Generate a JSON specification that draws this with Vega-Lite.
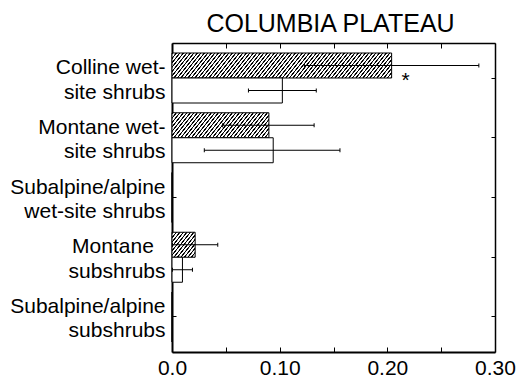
{
"$schema": "https://vega.github.io/schema/vega-lite/v6.json",
"width": 323, "height": 309,
"autosize": {"type": "none"},
"padding": {"left": 172, "top": 43, "right": 23, "bottom": 29},
"title": {"text": "COLUMBIA PLATEAU", "font": "Liberation Sans", "fontSize": 25, "fontWeight": "normal", "color": "black", "baseline": "alphabetic", "offset": -14, "anchor": "middle", "dx": -3},
"config": {"view": {"stroke": null}, "axis": {"domainColor": "black", "tickColor": "black", "labelColor": "black", "labelFont": "Liberation Sans", "labelFontSize": 21, "grid": false, "tickWidth": 1}},
"data": {"values": [
{"cat":"Colline wet-|site shrubs","series":"hatched","mean":0.204,"lo":0.123,"hi":0.285},
{"cat":"Colline wet-|site shrubs","series":"open","mean":0.1025,"lo":0.071,"hi":0.134},
{"cat":"Montane wet-|site shrubs","series":"hatched","mean":0.090,"lo":0.047,"hi":0.132},
{"cat":"Montane wet-|site shrubs","series":"open","mean":0.094,"lo":0.030,"hi":0.156},
{"cat":"Subalpine/alpine|wet-site shrubs","series":"hatched","mean":0,"lo":null,"hi":null},
{"cat":"Subalpine/alpine|wet-site shrubs","series":"open","mean":0,"lo":null,"hi":null},
{"cat":"Montane\u00a0\u00a0\u200b|subshrubs","series":"hatched","mean":0.0215,"lo":0.0005,"hi":0.0425},
{"cat":"Montane\u00a0\u00a0\u200b|subshrubs","series":"open","mean":0.0097,"lo":0.0004,"hi":0.019},
{"cat":"Subalpine/alpine|subshrubs","series":"hatched","mean":0,"lo":null,"hi":null},
{"cat":"Subalpine/alpine|subshrubs","series":"open","mean":0,"lo":null,"hi":null}
]},
"resolve": {"axis": {"x": "independent", "y": "independent"}},
"layer": [
{
"mark": {"type": "bar", "stroke": "black", "strokeWidth": 1},
"encoding": {
"x": {"field": "mean", "type": "quantitative", "scale": {"domain": [0, 0.3], "nice": false, "zero": true},
 "axis": {"orient": "bottom", "title": null, "values": [0,0.05,0.1,0.15,0.2,0.25,0.3], "labelExpr": "datum.value == 0 ? '0.0' : (round(datum.value*100) % 10 == 0 ? format(datum.value, '.2f') : '')", "tickSize": -5, "domainWidth": 2, "labelPadding": 10, "labelFlush": false, "labelOverlap": false}},
"y": {"field": "cat", "type": "nominal", "sort": null,
 "scale": {"domain": ["Colline wet-|site shrubs","Montane wet-|site shrubs","Subalpine/alpine|wet-site shrubs","Montane\u00a0\u00a0\u200b|subshrubs","Subalpine/alpine|subshrubs"], "paddingInner": 0.1632, "paddingOuter": 0.1674},
 "axis": {"orient": "left", "title": null, "tickSize": -4, "domainWidth": 2, "labelPadding": 11, "labelExpr": "split(datum.label, '|')", "labelLineHeight": 24.5, "labelBaseline": "middle", "labelOffset": -10}},
"yOffset": {"field": "series", "type": "nominal", "sort": ["hatched", "open"], "scale": {"paddingInner": 0, "paddingOuter": 0}},
"fill": {"condition": [
{"test": "datum.series == 'hatched' && datum.mean > 0.15", "value": {"gradient": "linear", "x1": 0, "y1": 0, "x2": 1.5804, "y2": 0.14391, "stops": [
{"offset":0,"color":"#fff"},{"offset":0.001,"color":"#000"},{"offset":0.004,"color":"#000"},{"offset":0.005,"color":"#fff"},
{"offset":0.01,"color":"#fff"},{"offset":0.011,"color":"#000"},{"offset":0.014,"color":"#000"},{"offset":0.015,"color":"#fff"},
{"offset":0.02,"color":"#fff"},{"offset":0.021,"color":"#000"},{"offset":0.024,"color":"#000"},{"offset":0.025,"color":"#fff"},
{"offset":0.03,"color":"#fff"},{"offset":0.031,"color":"#000"},{"offset":0.034,"color":"#000"},{"offset":0.035,"color":"#fff"},
{"offset":0.04,"color":"#fff"},{"offset":0.041,"color":"#000"},{"offset":0.044,"color":"#000"},{"offset":0.045,"color":"#fff"},
{"offset":0.05,"color":"#fff"},{"offset":0.051,"color":"#000"},{"offset":0.054,"color":"#000"},{"offset":0.055,"color":"#fff"},
{"offset":0.06,"color":"#fff"},{"offset":0.061,"color":"#000"},{"offset":0.064,"color":"#000"},{"offset":0.065,"color":"#fff"},
{"offset":0.07,"color":"#fff"},{"offset":0.071,"color":"#000"},{"offset":0.074,"color":"#000"},{"offset":0.075,"color":"#fff"},
{"offset":0.08,"color":"#fff"},{"offset":0.081,"color":"#000"},{"offset":0.084,"color":"#000"},{"offset":0.085,"color":"#fff"},
{"offset":0.09,"color":"#fff"},{"offset":0.091,"color":"#000"},{"offset":0.094,"color":"#000"},{"offset":0.095,"color":"#fff"},
{"offset":0.10,"color":"#fff"},{"offset":0.101,"color":"#000"},{"offset":0.104,"color":"#000"},{"offset":0.105,"color":"#fff"},
{"offset":0.11,"color":"#fff"},{"offset":0.111,"color":"#000"},{"offset":0.114,"color":"#000"},{"offset":0.115,"color":"#fff"},
{"offset":0.12,"color":"#fff"},{"offset":0.121,"color":"#000"},{"offset":0.124,"color":"#000"},{"offset":0.125,"color":"#fff"},
{"offset":0.13,"color":"#fff"},{"offset":0.131,"color":"#000"},{"offset":0.134,"color":"#000"},{"offset":0.135,"color":"#fff"},
{"offset":0.14,"color":"#fff"},{"offset":0.141,"color":"#000"},{"offset":0.144,"color":"#000"},{"offset":0.145,"color":"#fff"},
{"offset":0.15,"color":"#fff"},{"offset":0.151,"color":"#000"},{"offset":0.154,"color":"#000"},{"offset":0.155,"color":"#fff"},
{"offset":0.16,"color":"#fff"},{"offset":0.161,"color":"#000"},{"offset":0.164,"color":"#000"},{"offset":0.165,"color":"#fff"},
{"offset":0.17,"color":"#fff"},{"offset":0.171,"color":"#000"},{"offset":0.174,"color":"#000"},{"offset":0.175,"color":"#fff"},
{"offset":0.18,"color":"#fff"},{"offset":0.181,"color":"#000"},{"offset":0.184,"color":"#000"},{"offset":0.185,"color":"#fff"},
{"offset":0.19,"color":"#fff"},{"offset":0.191,"color":"#000"},{"offset":0.194,"color":"#000"},{"offset":0.195,"color":"#fff"},
{"offset":0.20,"color":"#fff"},{"offset":0.201,"color":"#000"},{"offset":0.204,"color":"#000"},{"offset":0.205,"color":"#fff"},
{"offset":0.21,"color":"#fff"},{"offset":0.211,"color":"#000"},{"offset":0.214,"color":"#000"},{"offset":0.215,"color":"#fff"},
{"offset":0.22,"color":"#fff"},{"offset":0.221,"color":"#000"},{"offset":0.224,"color":"#000"},{"offset":0.225,"color":"#fff"},
{"offset":0.23,"color":"#fff"},{"offset":0.231,"color":"#000"},{"offset":0.234,"color":"#000"},{"offset":0.235,"color":"#fff"},
{"offset":0.24,"color":"#fff"},{"offset":0.241,"color":"#000"},{"offset":0.244,"color":"#000"},{"offset":0.245,"color":"#fff"},
{"offset":0.25,"color":"#fff"},{"offset":0.251,"color":"#000"},{"offset":0.254,"color":"#000"},{"offset":0.255,"color":"#fff"},
{"offset":0.26,"color":"#fff"},{"offset":0.261,"color":"#000"},{"offset":0.264,"color":"#000"},{"offset":0.265,"color":"#fff"},
{"offset":0.27,"color":"#fff"},{"offset":0.271,"color":"#000"},{"offset":0.274,"color":"#000"},{"offset":0.275,"color":"#fff"},
{"offset":0.28,"color":"#fff"},{"offset":0.281,"color":"#000"},{"offset":0.284,"color":"#000"},{"offset":0.285,"color":"#fff"},
{"offset":0.29,"color":"#fff"},{"offset":0.291,"color":"#000"},{"offset":0.294,"color":"#000"},{"offset":0.295,"color":"#fff"},
{"offset":0.30,"color":"#fff"},{"offset":0.301,"color":"#000"},{"offset":0.304,"color":"#000"},{"offset":0.305,"color":"#fff"},
{"offset":0.31,"color":"#fff"},{"offset":0.311,"color":"#000"},{"offset":0.314,"color":"#000"},{"offset":0.315,"color":"#fff"},
{"offset":0.32,"color":"#fff"},{"offset":0.321,"color":"#000"},{"offset":0.324,"color":"#000"},{"offset":0.325,"color":"#fff"},
{"offset":0.33,"color":"#fff"},{"offset":0.331,"color":"#000"},{"offset":0.334,"color":"#000"},{"offset":0.335,"color":"#fff"},
{"offset":0.34,"color":"#fff"},{"offset":0.341,"color":"#000"},{"offset":0.344,"color":"#000"},{"offset":0.345,"color":"#fff"},
{"offset":0.35,"color":"#fff"},{"offset":0.351,"color":"#000"},{"offset":0.354,"color":"#000"},{"offset":0.355,"color":"#fff"},
{"offset":0.36,"color":"#fff"},{"offset":0.361,"color":"#000"},{"offset":0.364,"color":"#000"},{"offset":0.365,"color":"#fff"},
{"offset":0.37,"color":"#fff"},{"offset":0.371,"color":"#000"},{"offset":0.374,"color":"#000"},{"offset":0.375,"color":"#fff"},
{"offset":0.38,"color":"#fff"},{"offset":0.381,"color":"#000"},{"offset":0.384,"color":"#000"},{"offset":0.385,"color":"#fff"},
{"offset":0.39,"color":"#fff"},{"offset":0.391,"color":"#000"},{"offset":0.394,"color":"#000"},{"offset":0.395,"color":"#fff"},
{"offset":0.40,"color":"#fff"},{"offset":0.401,"color":"#000"},{"offset":0.404,"color":"#000"},{"offset":0.405,"color":"#fff"},
{"offset":0.41,"color":"#fff"},{"offset":0.411,"color":"#000"},{"offset":0.414,"color":"#000"},{"offset":0.415,"color":"#fff"},
{"offset":0.42,"color":"#fff"},{"offset":0.421,"color":"#000"},{"offset":0.424,"color":"#000"},{"offset":0.425,"color":"#fff"},
{"offset":0.43,"color":"#fff"},{"offset":0.431,"color":"#000"},{"offset":0.434,"color":"#000"},{"offset":0.435,"color":"#fff"},
{"offset":0.44,"color":"#fff"},{"offset":0.441,"color":"#000"},{"offset":0.444,"color":"#000"},{"offset":0.445,"color":"#fff"},
{"offset":0.45,"color":"#fff"},{"offset":0.451,"color":"#000"},{"offset":0.454,"color":"#000"},{"offset":0.455,"color":"#fff"},
{"offset":0.46,"color":"#fff"},{"offset":0.461,"color":"#000"},{"offset":0.464,"color":"#000"},{"offset":0.465,"color":"#fff"},
{"offset":0.47,"color":"#fff"},{"offset":0.471,"color":"#000"},{"offset":0.474,"color":"#000"},{"offset":0.475,"color":"#fff"},
{"offset":0.48,"color":"#fff"},{"offset":0.481,"color":"#000"},{"offset":0.484,"color":"#000"},{"offset":0.485,"color":"#fff"},
{"offset":0.49,"color":"#fff"},{"offset":0.491,"color":"#000"},{"offset":0.494,"color":"#000"},{"offset":0.495,"color":"#fff"},
{"offset":0.50,"color":"#fff"},{"offset":0.501,"color":"#000"},{"offset":0.504,"color":"#000"},{"offset":0.505,"color":"#fff"},
{"offset":0.51,"color":"#fff"},{"offset":0.511,"color":"#000"},{"offset":0.514,"color":"#000"},{"offset":0.515,"color":"#fff"},
{"offset":0.52,"color":"#fff"},{"offset":0.521,"color":"#000"},{"offset":0.524,"color":"#000"},{"offset":0.525,"color":"#fff"},
{"offset":0.53,"color":"#fff"},{"offset":0.531,"color":"#000"},{"offset":0.534,"color":"#000"},{"offset":0.535,"color":"#fff"},
{"offset":0.54,"color":"#fff"},{"offset":0.541,"color":"#000"},{"offset":0.544,"color":"#000"},{"offset":0.545,"color":"#fff"},
{"offset":0.55,"color":"#fff"},{"offset":0.551,"color":"#000"},{"offset":0.554,"color":"#000"},{"offset":0.555,"color":"#fff"},
{"offset":0.56,"color":"#fff"},{"offset":0.561,"color":"#000"},{"offset":0.564,"color":"#000"},{"offset":0.565,"color":"#fff"},
{"offset":0.57,"color":"#fff"},{"offset":0.571,"color":"#000"},{"offset":0.574,"color":"#000"},{"offset":0.575,"color":"#fff"},
{"offset":0.58,"color":"#fff"},{"offset":0.581,"color":"#000"},{"offset":0.584,"color":"#000"},{"offset":0.585,"color":"#fff"},
{"offset":0.59,"color":"#fff"},{"offset":0.591,"color":"#000"},{"offset":0.594,"color":"#000"},{"offset":0.595,"color":"#fff"},
{"offset":0.60,"color":"#fff"},{"offset":0.601,"color":"#000"},{"offset":0.604,"color":"#000"},{"offset":0.605,"color":"#fff"},
{"offset":0.61,"color":"#fff"},{"offset":0.611,"color":"#000"},{"offset":0.614,"color":"#000"},{"offset":0.615,"color":"#fff"},
{"offset":0.62,"color":"#fff"},{"offset":0.621,"color":"#000"},{"offset":0.624,"color":"#000"},{"offset":0.625,"color":"#fff"},
{"offset":0.63,"color":"#fff"},{"offset":0.631,"color":"#000"},{"offset":0.634,"color":"#000"},{"offset":0.635,"color":"#fff"},
{"offset":0.64,"color":"#fff"},{"offset":0.641,"color":"#000"},{"offset":0.644,"color":"#000"},{"offset":0.645,"color":"#fff"},
{"offset":0.65,"color":"#fff"},{"offset":0.651,"color":"#000"},{"offset":0.654,"color":"#000"},{"offset":0.655,"color":"#fff"},
{"offset":0.66,"color":"#fff"},{"offset":0.661,"color":"#000"},{"offset":0.664,"color":"#000"},{"offset":0.665,"color":"#fff"},
{"offset":0.67,"color":"#fff"},{"offset":0.671,"color":"#000"},{"offset":0.674,"color":"#000"},{"offset":0.675,"color":"#fff"},
{"offset":0.68,"color":"#fff"},{"offset":0.681,"color":"#000"},{"offset":0.684,"color":"#000"},{"offset":0.685,"color":"#fff"},
{"offset":0.69,"color":"#fff"},{"offset":0.691,"color":"#000"},{"offset":0.694,"color":"#000"},{"offset":0.695,"color":"#fff"}
]}},
{"test": "datum.series == 'hatched' && datum.mean > 0.05", "value": {"gradient": "linear", "x1": 0, "y1": 0, "x2": 3.4644, "y2": 0.71504, "stops": [
{"offset":0,"color":"#fff"},{"offset":0.001,"color":"#000"},{"offset":0.004,"color":"#000"},{"offset":0.005,"color":"#fff"},
{"offset":0.01,"color":"#fff"},{"offset":0.011,"color":"#000"},{"offset":0.014,"color":"#000"},{"offset":0.015,"color":"#fff"},
{"offset":0.02,"color":"#fff"},{"offset":0.021,"color":"#000"},{"offset":0.024,"color":"#000"},{"offset":0.025,"color":"#fff"},
{"offset":0.03,"color":"#fff"},{"offset":0.031,"color":"#000"},{"offset":0.034,"color":"#000"},{"offset":0.035,"color":"#fff"},
{"offset":0.04,"color":"#fff"},{"offset":0.041,"color":"#000"},{"offset":0.044,"color":"#000"},{"offset":0.045,"color":"#fff"},
{"offset":0.05,"color":"#fff"},{"offset":0.051,"color":"#000"},{"offset":0.054,"color":"#000"},{"offset":0.055,"color":"#fff"},
{"offset":0.06,"color":"#fff"},{"offset":0.061,"color":"#000"},{"offset":0.064,"color":"#000"},{"offset":0.065,"color":"#fff"},
{"offset":0.07,"color":"#fff"},{"offset":0.071,"color":"#000"},{"offset":0.074,"color":"#000"},{"offset":0.075,"color":"#fff"},
{"offset":0.08,"color":"#fff"},{"offset":0.081,"color":"#000"},{"offset":0.084,"color":"#000"},{"offset":0.085,"color":"#fff"},
{"offset":0.09,"color":"#fff"},{"offset":0.091,"color":"#000"},{"offset":0.094,"color":"#000"},{"offset":0.095,"color":"#fff"},
{"offset":0.10,"color":"#fff"},{"offset":0.101,"color":"#000"},{"offset":0.104,"color":"#000"},{"offset":0.105,"color":"#fff"},
{"offset":0.11,"color":"#fff"},{"offset":0.111,"color":"#000"},{"offset":0.114,"color":"#000"},{"offset":0.115,"color":"#fff"},
{"offset":0.12,"color":"#fff"},{"offset":0.121,"color":"#000"},{"offset":0.124,"color":"#000"},{"offset":0.125,"color":"#fff"},
{"offset":0.13,"color":"#fff"},{"offset":0.131,"color":"#000"},{"offset":0.134,"color":"#000"},{"offset":0.135,"color":"#fff"},
{"offset":0.14,"color":"#fff"},{"offset":0.141,"color":"#000"},{"offset":0.144,"color":"#000"},{"offset":0.145,"color":"#fff"},
{"offset":0.15,"color":"#fff"},{"offset":0.151,"color":"#000"},{"offset":0.154,"color":"#000"},{"offset":0.155,"color":"#fff"},
{"offset":0.16,"color":"#fff"},{"offset":0.161,"color":"#000"},{"offset":0.164,"color":"#000"},{"offset":0.165,"color":"#fff"},
{"offset":0.17,"color":"#fff"},{"offset":0.171,"color":"#000"},{"offset":0.174,"color":"#000"},{"offset":0.175,"color":"#fff"},
{"offset":0.18,"color":"#fff"},{"offset":0.181,"color":"#000"},{"offset":0.184,"color":"#000"},{"offset":0.185,"color":"#fff"},
{"offset":0.19,"color":"#fff"},{"offset":0.191,"color":"#000"},{"offset":0.194,"color":"#000"},{"offset":0.195,"color":"#fff"},
{"offset":0.20,"color":"#fff"},{"offset":0.201,"color":"#000"},{"offset":0.204,"color":"#000"},{"offset":0.205,"color":"#fff"},
{"offset":0.21,"color":"#fff"},{"offset":0.211,"color":"#000"},{"offset":0.214,"color":"#000"},{"offset":0.215,"color":"#fff"},
{"offset":0.22,"color":"#fff"},{"offset":0.221,"color":"#000"},{"offset":0.224,"color":"#000"},{"offset":0.225,"color":"#fff"},
{"offset":0.23,"color":"#fff"},{"offset":0.231,"color":"#000"},{"offset":0.234,"color":"#000"},{"offset":0.235,"color":"#fff"},
{"offset":0.24,"color":"#fff"},{"offset":0.241,"color":"#000"},{"offset":0.244,"color":"#000"},{"offset":0.245,"color":"#fff"},
{"offset":0.25,"color":"#fff"},{"offset":0.251,"color":"#000"},{"offset":0.254,"color":"#000"},{"offset":0.255,"color":"#fff"},
{"offset":0.26,"color":"#fff"},{"offset":0.261,"color":"#000"},{"offset":0.264,"color":"#000"},{"offset":0.265,"color":"#fff"},
{"offset":0.27,"color":"#fff"},{"offset":0.271,"color":"#000"},{"offset":0.274,"color":"#000"},{"offset":0.275,"color":"#fff"},
{"offset":0.28,"color":"#fff"},{"offset":0.281,"color":"#000"},{"offset":0.284,"color":"#000"},{"offset":0.285,"color":"#fff"},
{"offset":0.29,"color":"#fff"},{"offset":0.291,"color":"#000"},{"offset":0.294,"color":"#000"},{"offset":0.295,"color":"#fff"},
{"offset":0.30,"color":"#fff"},{"offset":0.301,"color":"#000"},{"offset":0.304,"color":"#000"},{"offset":0.305,"color":"#fff"},
{"offset":0.31,"color":"#fff"},{"offset":0.311,"color":"#000"},{"offset":0.314,"color":"#000"},{"offset":0.315,"color":"#fff"},
{"offset":0.32,"color":"#fff"},{"offset":0.321,"color":"#000"},{"offset":0.324,"color":"#000"},{"offset":0.325,"color":"#fff"},
{"offset":0.33,"color":"#fff"},{"offset":0.331,"color":"#000"},{"offset":0.334,"color":"#000"},{"offset":0.335,"color":"#fff"}
]}},
{"test": "datum.series == 'hatched' && datum.mean > 0", "value": {"gradient": "linear", "x1": 0, "y1": 0, "x2": 8.6574, "y2": 7.4794, "stops": [
{"offset":0,"color":"#fff"},{"offset":0.001,"color":"#000"},{"offset":0.004,"color":"#000"},{"offset":0.005,"color":"#fff"},
{"offset":0.01,"color":"#fff"},{"offset":0.011,"color":"#000"},{"offset":0.014,"color":"#000"},{"offset":0.015,"color":"#fff"},
{"offset":0.02,"color":"#fff"},{"offset":0.021,"color":"#000"},{"offset":0.024,"color":"#000"},{"offset":0.025,"color":"#fff"},
{"offset":0.03,"color":"#fff"},{"offset":0.031,"color":"#000"},{"offset":0.034,"color":"#000"},{"offset":0.035,"color":"#fff"},
{"offset":0.04,"color":"#fff"},{"offset":0.041,"color":"#000"},{"offset":0.044,"color":"#000"},{"offset":0.045,"color":"#fff"},
{"offset":0.05,"color":"#fff"},{"offset":0.051,"color":"#000"},{"offset":0.054,"color":"#000"},{"offset":0.055,"color":"#fff"},
{"offset":0.06,"color":"#fff"},{"offset":0.061,"color":"#000"},{"offset":0.064,"color":"#000"},{"offset":0.065,"color":"#fff"},
{"offset":0.07,"color":"#fff"},{"offset":0.071,"color":"#000"},{"offset":0.074,"color":"#000"},{"offset":0.075,"color":"#fff"},
{"offset":0.08,"color":"#fff"},{"offset":0.081,"color":"#000"},{"offset":0.084,"color":"#000"},{"offset":0.085,"color":"#fff"},
{"offset":0.09,"color":"#fff"},{"offset":0.091,"color":"#000"},{"offset":0.094,"color":"#000"},{"offset":0.095,"color":"#fff"},
{"offset":0.10,"color":"#fff"},{"offset":0.101,"color":"#000"},{"offset":0.104,"color":"#000"},{"offset":0.105,"color":"#fff"},
{"offset":0.11,"color":"#fff"},{"offset":0.111,"color":"#000"},{"offset":0.114,"color":"#000"},{"offset":0.115,"color":"#fff"},
{"offset":0.12,"color":"#fff"},{"offset":0.121,"color":"#000"},{"offset":0.124,"color":"#000"},{"offset":0.125,"color":"#fff"}
]}}
], "value": "white"}
}
},
{
"transform": [{"filter": "isValid(datum.lo)"}],
"mark": {"type": "rule", "color": "black", "strokeWidth": 1},
"encoding": {
"x": {"field": "lo", "type": "quantitative", "axis": {"orient": "top", "title": null, "values": [0,0.05,0.1,0.15,0.2,0.25,0.3], "labels": false, "tickSize": -5, "domainWidth": 1.5}},
"x2": {"field": "hi"},
"y": {"field": "cat", "type": "nominal", "sort": null, "axis": {"orient": "right", "title": null, "labels": false, "tickSize": -4, "domainWidth": 1.5}},
"yOffset": {"field": "series", "type": "nominal", "sort": ["hatched", "open"]}
}
},
{
"transform": [{"filter": "isValid(datum.lo)"}],
"mark": {"type": "tick", "color": "black", "thickness": 1, "size": 4, "opacity": 1},
"encoding": {
"x": {"field": "lo", "type": "quantitative", "axis": null},
"y": {"field": "cat", "type": "nominal", "sort": null, "axis": null},
"yOffset": {"field": "series", "type": "nominal", "sort": ["hatched", "open"]}
}
},
{
"transform": [{"filter": "isValid(datum.hi)"}],
"mark": {"type": "tick", "color": "black", "thickness": 1, "size": 4, "opacity": 1},
"encoding": {
"x": {"field": "hi", "type": "quantitative", "axis": null},
"y": {"field": "cat", "type": "nominal", "sort": null, "axis": null},
"yOffset": {"field": "series", "type": "nominal", "sort": ["hatched", "open"]}
}
},
{
"data": {"values": [{"cat": "Colline wet-|site shrubs", "x": 0.217, "mark": "*"}]},
"mark": {"type": "text", "font": "Liberation Sans", "fontSize": 21, "baseline": "alphabetic", "align": "center", "dy": 9, "color": "black"},
"encoding": {
"x": {"field": "x", "type": "quantitative", "axis": null},
"y": {"field": "cat", "type": "nominal", "sort": null, "axis": null},
"text": {"field": "mark"}
}
}
]
}
